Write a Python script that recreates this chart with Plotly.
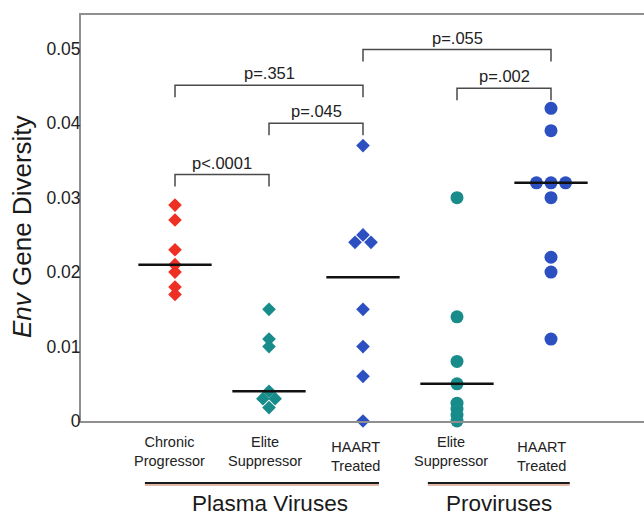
import plotly.graph_objects as go

# ---------------- data ----------------
group_labels = ["Chronic<br>Progressor", "Elite<br>Suppressor", "HAART<br>Treated",
                "Elite<br>Suppressor", "HAART<br>Treated"]
section_labels = ["Plasma Viruses", "Proviruses"]

chronic_progressor = [0.029, 0.027, 0.023, 0.021, 0.020, 0.018, 0.017]
elite_plasma = [0.015, 0.011, 0.010, 0.004, 0.003, 0.003, 0.0018]
haart_plasma = [0.037, 0.025, 0.024, 0.024, 0.015, 0.010, 0.006, 0.0]
elite_provirus = [0.030, 0.014, 0.008, 0.005, 0.0024, 0.0016, 0.0008, 0.0]
haart_provirus = [0.042, 0.039, 0.032, 0.032, 0.032, 0.030, 0.022, 0.020, 0.011]

medians = [0.021, 0.004, 0.0193, 0.005, 0.032]

# comparisons: (group a, group b, label)
comparisons = [(0, 1, "p<.0001"), (1, 2, "p=.045"), (0, 2, "p=.351"),
               (3, 4, "p=.002"), (2, 4, "p=.055")]

ytick_vals = [0, 0.01, 0.02, 0.03, 0.04, 0.05]
ytick_text = ["0", "0.01", "0.02", "0.03", "0.04", "0.05"]

# ---------------- layout / style constants ----------------
W, H = 644, 516
ML, MT, MB = 81, 15, 95
PLOT_H = H - MT - MB
PX_PER_X = 94.0
XPOS = [1, 2, 3, 4, 5]
X_RANGE = [0, (W - ML) / PX_PER_X]
Y_RANGE = [0, 0.05454]
bracket_levels = [0.0331, 0.0400, 0.0451, 0.0447, 0.0499]
BRACKET_DROP = 0.0016

RED = "#ee3024"
TEAL = "#178c8a"
BLUE = "#2c50c2"
series = [
    (chronic_progressor, "diamond", RED, 10.5, 0.0),
    (elite_plasma, "diamond", TEAL, 10.5, 0.13),
    (haart_plasma, "diamond", BLUE, 10.5, 0.17),
    (elite_provirus, "circle", TEAL, 13, 0.155),
    (haart_provirus, "circle", BLUE, 13, 0.155),
]
FONT = "Liberation Sans, Arial, Helvetica, sans-serif"
TXT = "#222222"


def spread(values, center, step):
    """place equal values side by side around the group center"""
    xs = []
    counts = {}
    for v in values:
        counts[v] = counts.get(v, 0) + 1
    seen = {}
    for v in values:
        n = counts[v]
        i = seen.get(v, 0)
        seen[v] = i + 1
        xs.append(center + (i - (n - 1) / 2) * step)
    return xs


def px_to_paper_y(py):
    return (H - MB - py) / PLOT_H


fig = go.Figure()

for gi, (vals, sym, col, size, step) in enumerate(series):
    fig.add_trace(go.Scatter(
        x=spread(vals, XPOS[gi], step), y=vals, mode="markers",
        marker=dict(symbol=sym, color=col, size=size, line=dict(width=0)),
        cliponaxis=False, showlegend=False, hoverinfo="y"))

# median lines
for gi, m in enumerate(medians):
    fig.add_trace(go.Scatter(
        x=[XPOS[gi] - 0.39, XPOS[gi] + 0.39], y=[m, m], mode="lines",
        line=dict(color="#111111", width=2.5), showlegend=False, hoverinfo="skip"))

# comparison brackets
for (a, b, lab), lev in zip(comparisons, bracket_levels):
    fig.add_trace(go.Scatter(
        x=[XPOS[a], XPOS[a], XPOS[b], XPOS[b]],
        y=[lev - BRACKET_DROP, lev, lev, lev - BRACKET_DROP],
        mode="lines", line=dict(color="#4a4a4a", width=1.5),
        showlegend=False, hoverinfo="skip", cliponaxis=False))
    fig.add_annotation(x=(XPOS[a] + XPOS[b]) / 2, y=lev, xref="x", yref="y",
                       text=lab, showarrow=False, yanchor="bottom", yshift=1,
                       font=dict(family=FONT, size=16.5, color=TXT))

# category labels
label_shift = [-6, -4, -8, -6, -10]
label_top = [432, 432, 437, 432, 437]
for gi, lab in enumerate(group_labels):
    fig.add_annotation(x=XPOS[gi], y=px_to_paper_y(label_top[gi]), xref="x", yref="paper",
                       text=lab, showarrow=False, yanchor="top", xshift=label_shift[gi],
                       font=dict(family=FONT, size=14.5, color=TXT))

# section underlines
underlines = [(0.68, 3.17), (3.69, 5.20)]
for (x0, x1) in underlines:
    fig.add_shape(type="line", xref="x", yref="paper", x0=x0, x1=x1,
                  y0=px_to_paper_y(485), y1=px_to_paper_y(485),
                  line=dict(color="#d8a08c", width=1.5))
    fig.add_shape(type="line", xref="x", yref="paper", x0=x0, x1=x1,
                  y0=px_to_paper_y(483), y1=px_to_paper_y(483),
                  line=dict(color="#1a1a1a", width=2))

section_x = [2.01, 4.45]
for sx, lab in zip(section_x, section_labels):
    fig.add_annotation(x=sx, y=px_to_paper_y(503), xref="x", yref="paper",
                       text=lab, showarrow=False, yanchor="middle",
                       font=dict(family=FONT, size=22.5, color="#1a1a1a"))

# y-axis title
fig.add_annotation(x=(22 - ML) / (W - ML), y=px_to_paper_y(227), xref="paper", yref="paper",
                   text="<i>Env</i> Gene Diversity", textangle=-90, showarrow=False,
                   xanchor="center", yanchor="middle",
                   font=dict(family=FONT, size=26, color="#1a1a1a"))

fig.update_layout(
    width=W, height=H,
    margin=dict(l=ML, r=0, t=MT, b=MB, pad=0),
    paper_bgcolor="white", plot_bgcolor="white",
    xaxis=dict(range=X_RANGE, showline=True, mirror=True, linecolor="#8f8f8f", linewidth=2,
               showgrid=False, zeroline=False, showticklabels=False, ticks="", fixedrange=True),
    yaxis=dict(range=Y_RANGE, showline=True, linecolor="#8f8f8f", linewidth=2,
               showgrid=False, zeroline=False, ticks="", tickvals=ytick_vals,
               ticktext=ytick_text, ticklabelstandoff=-5,
               tickfont=dict(family=FONT, size=17.5, color=TXT), fixedrange=True),
    showlegend=False,
)

fig.write_html("out.html")
